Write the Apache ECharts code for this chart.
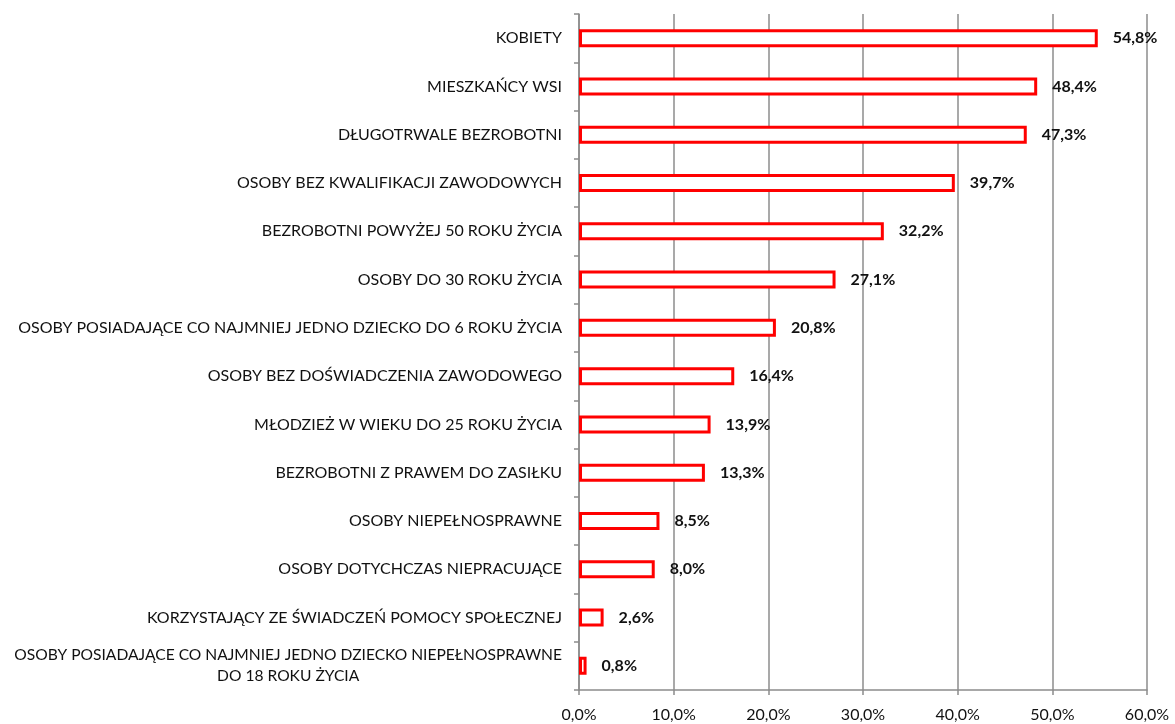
<!DOCTYPE html>
<html>
<head>
<meta charset="utf-8">
<script src="https://cdn.jsdelivr.net/npm/echarts@6/dist/echarts.min.js"></script>
<style>
  html, body { margin: 0; padding: 0; background: #fff; }
  #chart { width: 1175px; height: 724px; }
</style>
</head>
<body>
<div id="chart"></div>
<script>
// kategorie (od gory)
var categories = [
  'KOBIETY',
  'MIESZKAŃCY WSI',
  'DŁUGOTRWALE BEZROBOTNI',
  'OSOBY BEZ KWALIFIKACJI ZAWODOWYCH',
  'BEZROBOTNI POWYŻEJ 50 ROKU ŻYCIA',
  'OSOBY DO 30 ROKU ŻYCIA',
  'OSOBY POSIADAJĄCE CO NAJMNIEJ JEDNO DZIECKO DO 6 ROKU ŻYCIA',
  'OSOBY BEZ DOŚWIADCZENIA ZAWODOWEGO',
  'MŁODZIEŻ W WIEKU DO 25 ROKU ŻYCIA',
  'BEZROBOTNI Z PRAWEM DO ZASIŁKU',
  'OSOBY NIEPEŁNOSPRAWNE',
  'OSOBY DOTYCHCZAS NIEPRACUJĄCE',
  'KORZYSTAJĄCY ZE ŚWIADCZEŃ POMOCY SPOŁECZNEJ',
  'OSOBY POSIADAJĄCE CO NAJMNIEJ JEDNO DZIECKO NIEPEŁNOSPRAWNE\nDO 18 ROKU ŻYCIA'
]
var values = [54.8, 48.4, 47.3, 39.7, 32.2, 27.1, 20.8, 16.4, 13.9, 13.3, 8.5, 8.0, 2.6, 0.8]

function pct(v) {
  return v.toFixed(1).replace('.', ',') + '%'
}

var myChart = echarts.init(document.getElementById('chart'))
var font = 'Lato, sans-serif'

var option = {
  animation: false,
  grid: {
    left: 579,
    right: 28,
    top: 14,
    bottom: 34,
    outerBoundsMode: 'none'
  },
  xAxis: {
    type: 'value',
    min: 0,
    max: 60,
    interval: 10,
    axisLine: { show: true, lineStyle: { color: '#8c8c8c', width: 1.5 } },
    axisTick: { show: true, length: 5, lineStyle: { color: '#8c8c8c', width: 1.5 } },
    axisLabel: {
      color: '#111',
      fontFamily: font,
      fontSize: 16,
      margin: 17,
      formatter: function (v) { return pct(v) }
    },
    splitLine: { show: true, lineStyle: { color: '#8c8c8c', width: 1.5 } }
  },
  yAxis: {
    type: 'category',
    inverse: true,
    data: categories,
    axisLine: { show: true, lineStyle: { color: '#8c8c8c', width: 1.5 } },
    axisTick: { show: true, length: 5, lineStyle: { color: '#8c8c8c', width: 1.5 } },
    axisLabel: {
      color: '#111',
      fontFamily: font,
      fontSize: 16,
      margin: 17,
      lineHeight: 21,
      formatter: function (v) {
        // ostatnia etykieta ma dwie linie wysrodkowane
        if (v.indexOf('\n') >= 0) {
          return v.split('\n').map(function (s) { return '{c|' + s + '}' }).join('\n')
        }
        return v
      },
      rich: {
        c: { align: 'center', fontFamily: font, fontSize: 15.6, color: '#111', lineHeight: 21 }
      }
    }
  },
  series: [
    {
      type: 'bar',
      data: values,
      barWidth: 18,
      itemStyle: {
        color: '#fff',
        borderColor: '#ff0000',
        borderWidth: 3
      },
      label: {
        show: true,
        position: 'right',
        distance: 15,
        color: '#111',
        fontFamily: font,
        fontSize: 16,
        fontWeight: 'bold',
        formatter: function (p) { return pct(p.value) }
      }
    }
  ]
}

myChart.setOption(option)
</script>
</body>
</html>
